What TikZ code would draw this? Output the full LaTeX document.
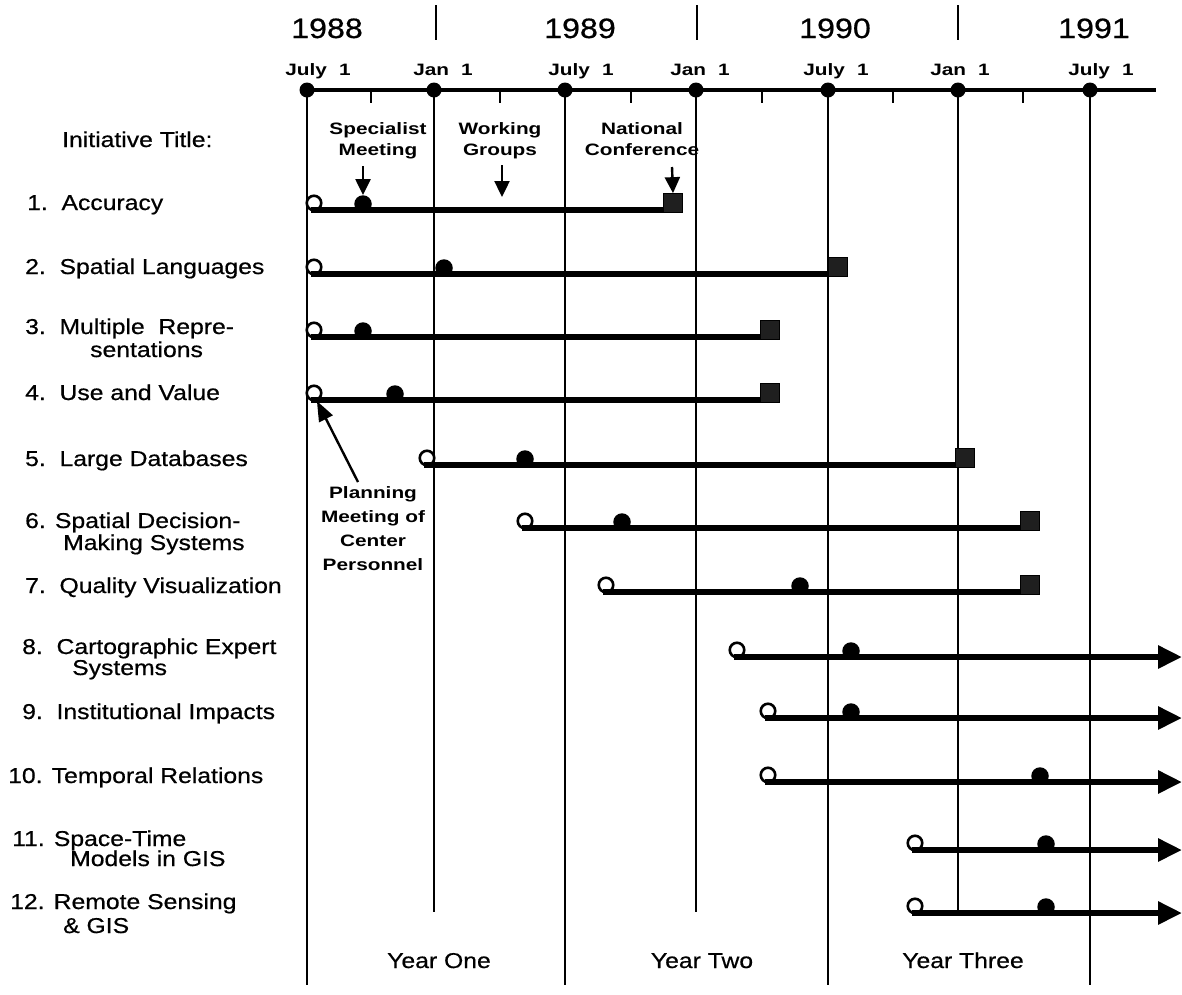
\documentclass[tikz,border=0pt]{standalone}
\usepackage{fontspec}
\setmainfont{Liberation Sans}[FakeStretch=1.15,FakeBold=0.6]
\newfontfamily\tagfont{Liberation Sans}[FakeStretch=1.26]
\usetikzlibrary{arrows.meta}
\begin{document}
\begin{tikzpicture}[x=1pt,y=-1pt,
  gridline/.style={line width=2.4pt},
  axisline/.style={line width=4.5pt},
  bar/.style={line width=5.8pt},
  datedot/.style={circle,fill=black,minimum size=15pt,inner sep=0pt},
  start/.style={circle,draw,line width=2.6pt,fill=white,minimum size=14.5pt,inner sep=0pt},
  mid/.style={circle,fill=black,minimum size=17.5pt,inner sep=0pt},
  finish/.style={rectangle,draw=black,line width=1.2pt,fill=black!88,minimum size=18.5pt,inner sep=0pt},
  yearlbl/.style={font=\fontsize{28}{30}\selectfont,anchor=base,inner sep=0pt},
  month/.style={font=\tagfont\bfseries\fontsize{16.5}{19}\selectfont,anchor=base,inner sep=0pt},
  note/.style={font=\tagfont\bfseries\fontsize{16.5}{21}\selectfont,align=center,anchor=north,inner sep=0pt},
  title/.style={font=\fontsize{21.5}{24}\selectfont,anchor=base west,inner sep=0pt},
  period/.style={font=\fontsize{21.5}{24}\selectfont,anchor=base,inner sep=0pt},
  pointer/.style={line width=2.4pt,-{Triangle[length=16pt,width=15pt]}},
  runon/.style={-{Triangle[length=24pt,width=22pt]}}
]
\useasboundingbox (0,0) rectangle (1182,994);

% year headings and the separators between years
\node[yearlbl] (y88) at (327,38) {1988};
\node[yearlbl] (y89) at (580,38) {1989};
\node[yearlbl] (y90) at (835,38) {1990};
\node[yearlbl] (y91) at (1094,38) {1991};
\foreach \x [count=\k] in {436,697,958}{
  \coordinate (ya\k) at (\x,5);
  \coordinate (yb\k) at (\x,40);
  \draw[gridline] (ya\k) -- (yb\k);
}

% month headings
\foreach \x/\t [count=\k] in {318/{July\hspace{12pt}1},443/{Jan\hspace{12pt}1},581/{July\hspace{12pt}1},
  700/{Jan\hspace{12pt}1},836/{July\hspace{12pt}1},960/{Jan\hspace{12pt}1},1101/{July\hspace{12pt}1}}{
  \node[month] (mo\k) at (\x,75) {\t};
}

% time axis
\coordinate (ax0) at (307,90);
\coordinate (ax1) at (1156,90);
\draw[axisline] (ax0) -- (ax1);

% half-year grid lines: July lines run to the foot, January lines stop at row 12
\foreach \x/\b [count=\k] in {307/985,434/912,565/985,696/912,828/985,958/912,1090/985}{
  \node[datedot] (d\k) at (\x,90) {};
  \coordinate (g\k) at (\x,\b);
  \draw[gridline] (d\k.center) -- (g\k);
}

% quarter ticks
\foreach \x [count=\k] in {371,500,631,762,893,1023}{
  \coordinate (qa\k) at (\x,90);
  \coordinate (qb\k) at (\x,103);
  \draw[gridline] (qa\k) -- (qb\k);
}

% initiatives that finish with a national conference
\foreach \i/\y/\s/\m/\e in {1/210/314/363/673,2/274/314/444/838,3/337/314/363/770,
  4/400/314/395/770,5/465/427/525/965,6/528/525/622/1030,7/592/606/800/1030}{
  \node[start] (s\i) at (\s,\y-7) {};
  \coordinate (a\i) at (\s-3,\y);
  \coordinate (b\i) at (\e+9,\y);
  \draw[bar] (a\i) -- (b\i);
  \node[mid] (m\i) at (\m,\y-6) {};
  \node[finish] (e\i) at (\e,\y-7) {};
}

% initiatives that continue past mid 1991
\foreach \i/\y/\s/\m in {8/657/737/851,9/718/768/851,10/782/768/1040,
  11/850/915/1046,12/913/915/1046}{
  \node[start] (s\i) at (\s,\y-7) {};
  \coordinate (a\i) at (\s-3,\y);
  \coordinate (b\i) at (1182,\y);
  \draw[bar,runon] (a\i) -- (b\i);
  \node[mid] (m\i) at (\m,\y-6) {};
}

% event callouts
\node[note] (spec) at (378,122) {Specialist\\Meeting};
\node[note] (work) at (500,122) {Working\\Groups};
\node[note] (natl) at (642,122) {National\\Conference};
\coordinate (sp) at (363,166);
\coordinate (wk) at (502,165);
\coordinate (wkend) at (502,197);
\coordinate (nc) at (672,167);
\draw[pointer] (sp) -- (m1.north);
\draw[pointer] (wk) -- (wkend);
\draw[pointer] (nc) -- (e1.north);

\node[note,font=\tagfont\bfseries\fontsize{16.5}{24}\selectfont] (plan) at (373,486)
  {Planning\\Meeting of\\Center\\Personnel};
\coordinate (pl) at (358,482);
\draw[line width=2.4pt,-{Triangle[length=20pt,width=15pt]}] (pl) -- (s4.-70);

% initiative titles
\node[title] (head) at (62,147) {Initiative Title:};
\node[title] (l1) at (27,210) {1.~~Accuracy};
\node[title] (l2) at (25,274) {2.~~Spatial Languages};
\node[title] (l3) at (25,334) {3.~~Multiple~~Repre-};
\node[title] (l3b) at (90,357) {sentations};
\node[title] (l4) at (25,400) {4.~~Use and Value};
\node[title] (l5) at (25,466) {5.~~Large Databases};
\node[title] (l6) at (25,528) {6. Spatial Decision-};
\node[title] (l6b) at (63,550) {Making Systems};
\node[title] (l7) at (25,593) {7.~~Quality Visualization};
\node[title] (l8) at (22,654) {8.~~Cartographic Expert};
\node[title] (l8b) at (72,675) {Systems};
\node[title] (l9) at (22,719) {9.~~Institutional Impacts};
\node[title] (l10) at (8,783) {10. Temporal Relations};
\node[title] (l11) at (12,846) {11. Space-Time};
\node[title] (l11b) at (70,866) {Models in GIS};
\node[title] (l12) at (10,909) {12. Remote Sensing};
\node[title] (l12b) at (63,933) {\& GIS};

% project years
\node[period] (yr1) at (439,968) {Year One};
\node[period] (yr2) at (702,968) {Year Two};
\node[period] (yr3) at (963,968) {Year Three};
\end{tikzpicture}
\end{document}
